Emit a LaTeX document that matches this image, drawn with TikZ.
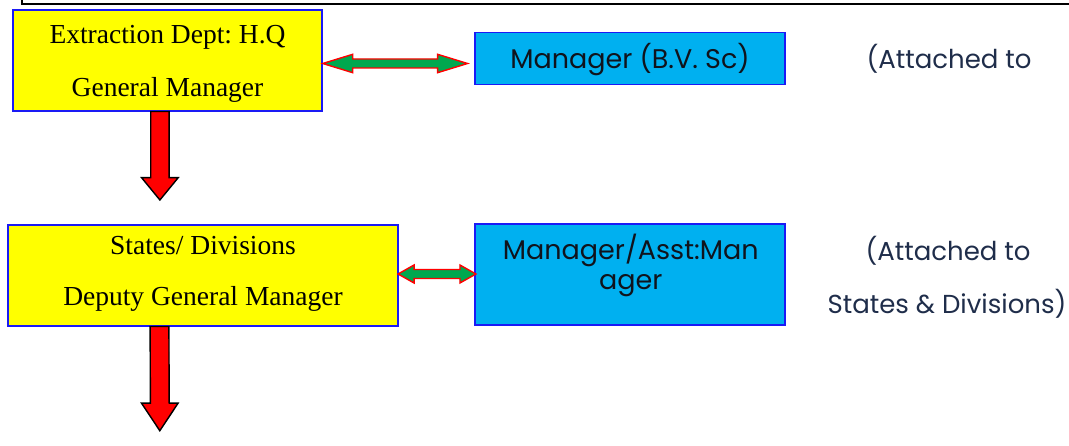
\documentclass[tikz,border=0pt]{standalone}
\usepackage{fontspec}
\setmainfont{Liberation Serif}
\newfontfamily\gothic{Poppins}
\usetikzlibrary{calc}
\frenchspacing
\definecolor{boxyellow}{HTML}{FFFF00}
\definecolor{boxblue}{HTML}{00B0F0}
\definecolor{edgeblue}{HTML}{1A1AF5}
\definecolor{arrgreen}{HTML}{00A84F}
\definecolor{arrred}{HTML}{FF0000}
\definecolor{navytext}{HTML}{1F2D4A}
\definecolor{darktext}{HTML}{10131C}
\tikzset{
  ybox/.style={draw=edgeblue, line width=1.5pt, fill=boxyellow, rectangle, inner sep=0pt},
  bbox/.style={draw=edgeblue, line width=1.5pt, fill=boxblue, rectangle, inner sep=0pt},
  serift/.style={font=\frenchspacing\fontsize{27.5}{30}\selectfont, text=black, inner sep=0pt, anchor=base},
  sanst/.style={font=\gothic\fontsize{27}{30}\selectfont, text=darktext, inner sep=0pt, anchor=base},
  notet/.style={font=\gothic\fontsize{26}{30}\selectfont, text=navytext, inner sep=0pt, anchor=base},
  dblarrow/.style={draw=arrred, fill=arrgreen, line width=1.4pt, line join=miter},
  downarrow/.style={draw=black, fill=arrred, line width=1.4pt, line join=miter}
}
\newcommand\dblarr[5]{%
  \draw[dblarrow] (#1) -- ($(#1)+(#3,-#4)$) -- ($(#1)+(#3,-#5)$) -- ($(#2)+(-#3,-#5)$)
   -- ($(#2)+(-#3,-#4)$) -- (#2) -- ($(#2)+(-#3,#4)$) -- ($(#2)+(-#3,#5)$)
   -- ($(#1)+(#3,#5)$) -- ($(#1)+(#3,#4)$) -- cycle;}
\newcommand\downarr[5]{%
  \draw[downarrow] ($(#1)+(-#3,0)$) -- ($(#1)+(#3,0)$) -- ($(#2)+(#3,-#5)$)
   -- ($(#2)+(#4,-#5)$) -- (#2) -- ($(#2)+(-#4,-#5)$) -- ($(#2)+(-#3,-#5)$) -- cycle;}
\begin{document}
\begin{tikzpicture}[x=1pt,y=-1pt]
\useasboundingbox (0,0) rectangle (1069,446);
% top frame fragment
\draw[line width=2pt, black] (22.4,-2) -- (22.4,4) -- (1072,4);
% boxes
\node[ybox, minimum width=309pt, minimum height=101pt] (b1) at (167.5,60.3) {};
\node[bbox, minimum width=310pt, minimum height=52pt] (b2) at (630,58.3) {};
\node[ybox, minimum width=390pt, minimum height=101pt] (b3) at (203,275.3) {};
\node[bbox, minimum width=310pt, minimum height=101pt] (b4) at (630,274.7) {};
% texts
\node[serift] (t1a) at (167.5,43.3) {Extraction Dept: H.Q};
\node[serift] (t1b) at (167.5,96.7) {General Manager};
\node[serift] (t3a) at (203,254.3) {States/ Divisions};
\node[serift] (t3b) at (203,306) {Deputy General Manager};
\node[sanst] (t2) at (630,68.3) {Manager (B.V. Sc)};
\node[sanst] (t4a) at (630.8,260) {Manager/Asst:Man};
\node[sanst] (t4b) at (630.8,289.3) {ager};
\node[notet] (n1) at (949,68.5) {(Attached to};
\node[notet] (n2) at (948,261) {(Attached to};
\node[notet] (n3) at (947,313.3) {States \& Divisions)};
% double arrows
\coordinate (d1l) at ($(b1.east)+(0,3.2)$);
\coordinate (d1r) at ($(b2.west)+(-6.7,5.2)$);
\dblarr{d1l}{d1r}{30}{9.2}{4.5}
\coordinate (d2l) at ($(b3.east)+(-0.7,-1.3)$);
\coordinate (d2r) at ($(b4.west)+(1.7,-0.7)$);
\dblarr{d2l}{d2r}{16}{9}{4.5}
% down arrows
\coordinate (a1t) at ($(b1.south)+(-7.6,0)$);
\coordinate (a1b) at (159.9,200);
\downarr{a1t}{a1b}{9.2}{18.3}{22.3}
\coordinate (a2t) at ($(b3.south)+(-43.5,0)$);
\coordinate (a2b) at (159.8,430.7);
\downarr{a2t}{a2b}{9.4}{18.3}{27.5}
\end{tikzpicture}
\end{document}
